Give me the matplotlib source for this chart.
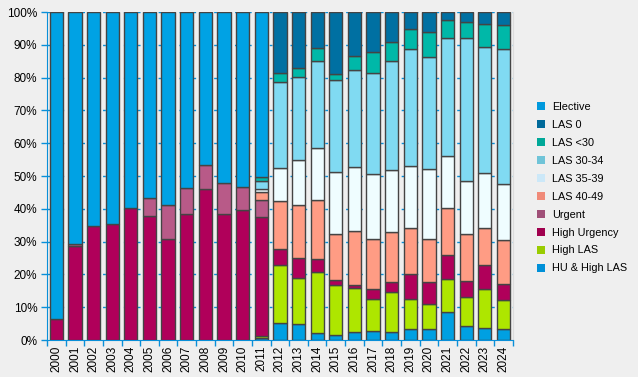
import numpy as np
import matplotlib
matplotlib.use("Agg")
import matplotlib.pyplot as plt
from matplotlib.patches import Patch

plt.rcParams["font.family"] = ["Liberation Sans", "DejaVu Sans"]

years = [str(y) for y in range(2000, 2025)]

# segment shares (%) per year, bottom of the stack first
hu_high_las = [0, 0, 0, 0, 0, 0, 0, 0, 0, 0, 0, 0.7,
               5.3, 5.0, 2.2, 1.6, 2.5, 2.7, 2.4, 3.4, 3.4, 8.5, 4.3, 3.7, 3.4]
high_las = [0, 0, 0, 0, 0, 0, 0, 0, 0, 0, 0, 0.6,
            17.6, 13.9, 18.5, 15.2, 13.4, 9.8, 12.2, 9.1, 7.6, 10.1, 8.8, 11.8, 8.8]
high_urgency = [6.5, 28.6, 34.8, 35.4, 40.2, 37.7, 30.9, 38.3, 46.2, 38.3, 39.5, 36.2,
                4.9, 6.2, 4.1, 1.6, 1.0, 3.2, 3.1, 7.6, 6.7, 7.3, 5.0, 7.4, 4.9]
urgent = [0, 0.7, 0, 0, 0, 5.6, 10.3, 8.0, 7.2, 9.6, 7.1, 5.3,
          0, 0, 0, 0, 0, 0, 0, 0, 0, 0, 0, 0, 0]
las_40_49 = [0, 0, 0, 0, 0, 0, 0, 0, 0, 0, 0, 2.3,
             14.6, 16.1, 17.9, 13.9, 16.4, 15.2, 15.2, 14.0, 13.1, 14.3, 14.2, 11.2, 13.5]
las_35_39 = [0, 0, 0, 0, 0, 0, 0, 0, 0, 0, 0, 0.9,
             10.0, 13.7, 15.9, 18.9, 19.4, 19.8, 18.9, 18.9, 21.3, 15.9, 16.2, 16.8, 17.0]
las_30_34 = [0, 0, 0, 0, 0, 0, 0, 0, 0, 0, 0, 2.5,
             26.3, 25.3, 26.5, 28.1, 29.6, 30.7, 33.3, 35.7, 34.2, 36.0, 43.6, 38.4, 41.1]
las_lt30 = [0, 0, 0, 0, 0, 0, 0, 0, 0, 0, 0, 1.2,
            2.7, 2.7, 3.9, 1.8, 4.3, 6.4, 5.8, 6.1, 7.6, 5.5, 4.8, 7.0, 7.3]
las_0 = [0, 0, 0, 0, 0, 0, 0, 0, 0, 0, 0, 0,
         18.6, 17.1, 11.0, 18.9, 13.4, 12.2, 9.1, 5.2, 6.1, 2.4, 3.1, 3.7, 4.0]
elective = [93.5, 70.7, 65.2, 64.6, 59.8, 56.7, 58.8, 53.7, 46.6, 52.1, 53.4, 50.3,
            0, 0, 0, 0, 0, 0, 0, 0, 0, 0, 0, 0, 0]

series = [
    ("HU & High LAS", hu_high_las, "#00A0E2"),
    ("High LAS", high_las, "#AEE600"),
    ("High Urgency", high_urgency, "#B0005A"),
    ("Urgent", urgent, "#B85A88"),
    ("LAS 40-49", las_40_49, "#FF9C84"),
    ("LAS 35-39", las_35_39, "#EFFDFF"),
    ("LAS 30-34", las_30_34, "#80DAF2"),
    ("LAS <30", las_lt30, "#00B8A8"),
    ("LAS 0", las_0, "#0070A2"),
    ("Elective", elective, "#00A2E4"),
]
legend_colors = {
    "Elective": "#0099DD", "LAS 0": "#006A9A", "LAS <30": "#00A898",
    "LAS 30-34": "#70C4D8", "LAS 35-39": "#CCE8F8", "LAS 40-49": "#F08A78",
    "Urgent": "#A05078", "High Urgency": "#A0004E", "High LAS": "#99CC00",
    "HU & High LAS": "#0090D8",
}

bg = "#EFEFEF"
blue = "#0A8FD8"

fig = plt.figure(figsize=(6.38, 3.77), dpi=100, facecolor=bg)
ax = fig.add_axes([0.0737, 0.098, 0.730, 0.870], facecolor=bg)

x = np.arange(len(years))
bottom = np.zeros(len(years))
for name, vals, col in series:
    v = np.array(vals, dtype=float)
    mask = v > 0
    ax.bar(x[mask], v[mask], bottom=bottom[mask], width=0.71, color=col,
           edgecolor="#444444", linewidth=1.0, zorder=3)
    bottom += v

ax.set_xlim(-0.44, len(years) - 0.56)
ax.set_ylim(0, 100)
ax.set_yticks(np.arange(0, 101, 10))
ax.set_yticklabels([f"{t}%" for t in range(0, 101, 10)], fontsize=8.5)
ax.set_xticks(x)
ax.set_xticklabels(years, rotation=90, fontsize=8.5)
ax.set_xticks(np.arange(-0.5, len(years), 1), minor=True)
ax.tick_params(axis="x", which="major", length=0, pad=4)
ax.tick_params(axis="x", which="minor", length=4, color=blue, width=1)
ax.tick_params(axis="y", length=4, color=blue, width=1, pad=3)

for t in np.arange(10, 101, 10):
    ax.axhline(t, color=blue, lw=1, ls=(0, (2, 3)), zorder=1)

for s in ["left", "bottom"]:
    ax.spines[s].set_color(blue)
ax.spines["top"].set_visible(False)
ax.spines["right"].set_color("#DCDCDC")

handles = [Patch(facecolor=legend_colors[n], edgecolor="none", label=n)
           for n, _, _ in reversed(series)]
fig.legend(handles=handles, loc="center left", bbox_to_anchor=(0.826, 0.502),
           frameon=False, fontsize=7.8, handlelength=0.75, handleheight=0.75,
           handletextpad=0.65, labelspacing=0.73)

fig.savefig("out.png", dpi=100, facecolor=bg)
